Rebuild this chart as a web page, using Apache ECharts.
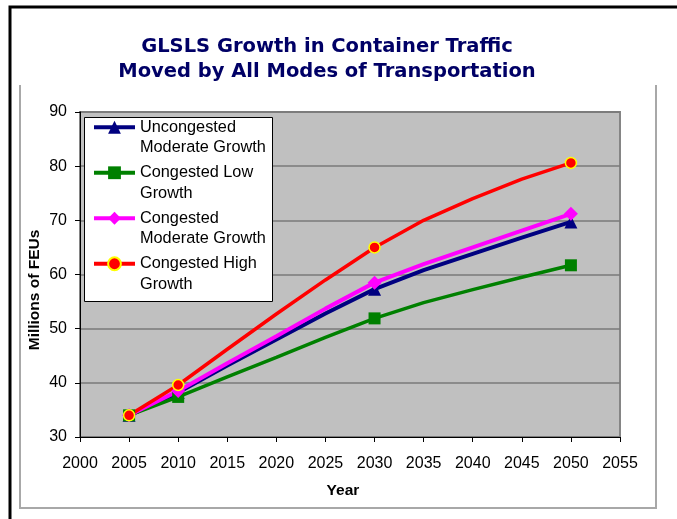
<!DOCTYPE html>
<html>
<head>
<meta charset="utf-8">
<script src="https://cdn.jsdelivr.net/npm/echarts@6/dist/echarts.min.js"></script>
<style>
  html, body { margin: 0; padding: 0; background: #fff; }
  #chart { width: 677px; height: 519px; }
</style>
</head>
<body>
<div id="chart"></div>
<script>
// Container traffic (millions of FEUs) by scenario, one value per year
const years = [2005, 2010, 2015, 2020, 2025, 2030, 2035, 2040, 2045, 2050];
const markedYears = [2005, 2010, 2030, 2050];

const uncongestedModerate = [34.0, 38.2, 43.2, 48.0, 52.8, 57.3, 60.8, 63.8, 66.8, 69.7];
const congestedLow        = [34.0, 37.4, 41.1, 44.7, 48.4, 51.9, 54.8, 57.2, 59.5, 61.7];
const congestedModerate   = [34.0, 38.5, 43.6, 48.6, 53.7, 58.5, 61.9, 65.0, 68.1, 71.2];
const congestedHigh       = [34.0, 39.6, 46.2, 52.7, 59.0, 65.0, 70.0, 74.0, 77.6, 80.6];

const seriesNames = [
  'Uncongested\nModerate Growth',
  'Congested Low\nGrowth',
  'Congested\nModerate Growth',
  'Congested High\nGrowth'
];

const yTicks = { min: 30, max: 90, step: 10 };
const xTicks = { min: 2000, max: 2055, step: 5 };

const titleLines = ['GLSLS Growth in Container Traffic', 'Moved by All Modes of Transportation'];

// Pair years with values; only the marked years carry a symbol
function points(values) {
  return years.map((yr, i) => {
    const item = { value: [yr, values[i]] };
    if (markedYears.indexOf(yr) < 0) item.symbol = 'none';
    return item;
  });
}

const labelFont = 'Liberation Sans, Arial, sans-serif';

const chart = echarts.init(document.getElementById('chart'), null, { renderer: 'canvas' });

chart.setOption({
  backgroundColor: '#ffffff',
  animation: false,
  grid: {
    left: 80, top: 112, right: 57, bottom: 82,
    show: true,
    backgroundColor: '#c0c0c0',
    borderColor: '#858585',
    borderWidth: 2
  },
  xAxis: {
    type: 'value',
    min: xTicks.min, max: xTicks.max, interval: xTicks.step,
    axisLine: { show: true, onZero: false, lineStyle: { color: '#000', width: 1 } },
    axisTick: { show: true, length: 5, lineStyle: { color: '#000' } },
    axisLabel: { color: '#000', fontFamily: labelFont, fontSize: 16, margin: 19,
                 formatter: v => String(v) },
    splitLine: { show: false }
  },
  yAxis: {
    type: 'value',
    min: yTicks.min, max: yTicks.max, interval: yTicks.step,
    axisLine: { show: true, onZero: false, lineStyle: { color: '#000', width: 1 } },
    axisTick: { show: true, length: 5, lineStyle: { color: '#000' } },
    axisLabel: { color: '#000', fontFamily: labelFont, fontSize: 16, margin: 13 },
    splitLine: { show: true, lineStyle: { color: '#7a7a7a', width: 1.5 } }
  },
  legend: {
    orient: 'vertical',
    left: 92, top: 96.5,
    padding: 0,
    itemWidth: 41, itemHeight: 16, itemGap: -16,
    selectedMode: false,
    lineStyle: { width: 4 },
    // a leading blank line puts each entry's first line level with its icon
    formatter: name => '\n' + name,
    textStyle: {
      fontFamily: labelFont, fontSize: 16.3, lineHeight: 20.5, color: '#000'
    },
    data: seriesNames
  },
  series: [
    {
      name: seriesNames[0], type: 'line', data: points(uncongestedModerate),
      symbol: 'triangle', symbolSize: 13,
      lineStyle: { color: '#000080', width: 4 },
      itemStyle: { color: '#000080' }
    },
    {
      name: seriesNames[1], type: 'line', data: points(congestedLow),
      symbol: 'rect', symbolSize: 12,
      lineStyle: { color: '#008000', width: 3.5 },
      itemStyle: { color: '#008000' }
    },
    {
      name: seriesNames[2], type: 'line', data: points(congestedModerate),
      symbol: 'diamond', symbolSize: 14,
      lineStyle: { color: '#ff00ff', width: 4 },
      itemStyle: { color: '#ff00ff' }
    },
    {
      name: seriesNames[3], type: 'line', data: points(congestedHigh),
      symbol: 'circle', symbolSize: 11,
      lineStyle: { color: '#ff0000', width: 3.5 },
      itemStyle: { color: '#ff0000', borderColor: '#ffff00', borderWidth: 1.5 }
    }
  ],
  graphic: [
    // outer black frame (right and bottom edges run off the page)
    { type: 'rect', z: 0, silent: true,
      shape: { x: 10, y: 7, width: 720, height: 560 },
      style: { fill: 'none', stroke: '#000', lineWidth: 3 } },
    // chart-area frame
    { type: 'polyline', z: 0, silent: true,
      shape: { points: [[20, 85], [20, 508], [656, 508], [656, 85]] },
      style: { fill: 'none', stroke: '#a8a8a8', lineWidth: 2 } },
    // legend box
    { type: 'rect', z: 3, silent: true,
      shape: { x: 84.5, y: 117.5, width: 188, height: 184 },
      style: { fill: '#ffffff', stroke: '#000', lineWidth: 1 } },
    // title
    { type: 'text', z: 5, silent: true, x: 327, y: 47,
      style: { text: titleLines[0], fill: '#000066', font: 'bold 19.5px "DejaVu Sans", Verdana, sans-serif',
               align: 'center', verticalAlign: 'middle' } },
    { type: 'text', z: 5, silent: true, x: 327, y: 72,
      style: { text: titleLines[1], fill: '#000066', font: 'bold 19.5px "DejaVu Sans", Verdana, sans-serif',
               align: 'center', verticalAlign: 'middle' } },
    // axis names
    { type: 'text', z: 5, silent: true, x: 343, y: 491,
      style: { text: 'Year', fill: '#000', font: 'bold 15.5px "Liberation Sans", Arial, sans-serif',
               align: 'center', verticalAlign: 'middle' } },
    { type: 'text', z: 5, silent: true, x: 35, y: 290, rotation: Math.PI / 2,
      style: { text: 'Millions of FEUs', fill: '#000', font: 'bold 15.5px "Liberation Sans", Arial, sans-serif',
               align: 'center', verticalAlign: 'middle' } }
  ]
});
</script>
</body>
</html>
